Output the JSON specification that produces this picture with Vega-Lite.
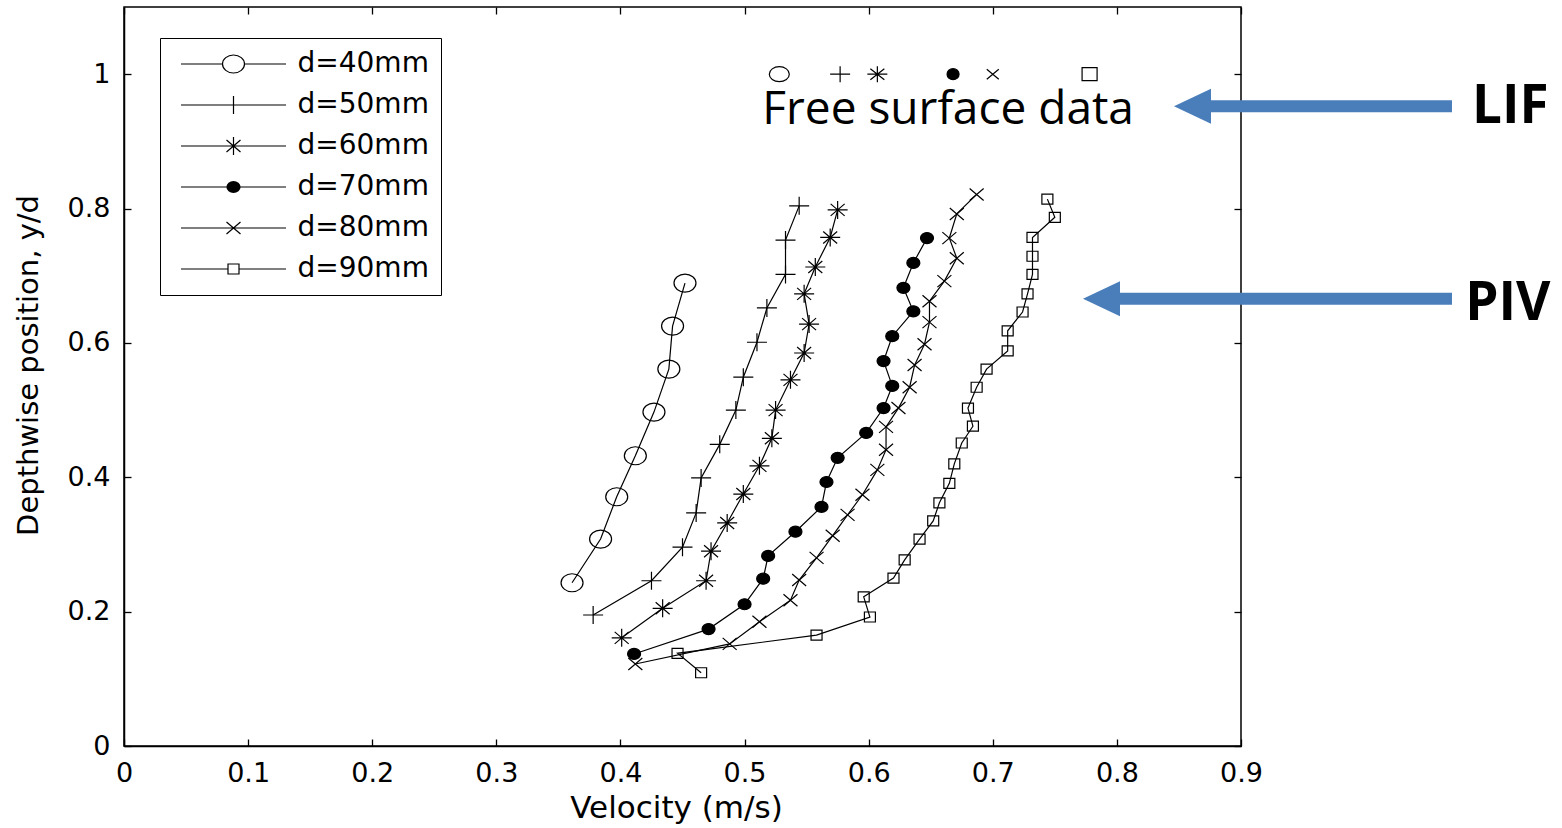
{
  "$schema": "https://vega.github.io/schema/vega-lite/v6.json",
  "width": 1117,
  "height": 739,
  "autosize": {"type": "none"},
  "padding": {"left": 124, "top": 7, "right": 321, "bottom": 82},
  "background": "white",
  "config": {
    "view": {"stroke": "black", "strokeWidth": 1.5},
    "axis": {
      "labelFont": "DejaVu Sans", "labelFontSize": 27, "labelColor": "black",
      "titleFont": "DejaVu Sans", "titleFontSize": 29, "titleFontWeight": "normal", "titleColor": "black",
      "domainColor": "black", "domainWidth": 1.5, "tickColor": "black", "tickWidth": 1.3, "tickSize": -7,
      "grid": false, "labelFlush": false, "labelOverlap": false
    }
  },
  "datasets": {
    "piv": [
      {"series": "d=40mm", "v": 0.361, "y": 0.243},
      {"series": "d=40mm", "v": 0.384, "y": 0.308},
      {"series": "d=40mm", "v": 0.397, "y": 0.371},
      {"series": "d=40mm", "v": 0.412, "y": 0.432},
      {"series": "d=40mm", "v": 0.427, "y": 0.497},
      {"series": "d=40mm", "v": 0.439, "y": 0.561},
      {"series": "d=40mm", "v": 0.442, "y": 0.625},
      {"series": "d=40mm", "v": 0.452, "y": 0.689},
      {"series": "d=50mm", "v": 0.378, "y": 0.195},
      {"series": "d=50mm", "v": 0.425, "y": 0.246},
      {"series": "d=50mm", "v": 0.450, "y": 0.296},
      {"series": "d=50mm", "v": 0.461, "y": 0.347},
      {"series": "d=50mm", "v": 0.465, "y": 0.399},
      {"series": "d=50mm", "v": 0.480, "y": 0.449},
      {"series": "d=50mm", "v": 0.493, "y": 0.500},
      {"series": "d=50mm", "v": 0.499, "y": 0.549},
      {"series": "d=50mm", "v": 0.510, "y": 0.601},
      {"series": "d=50mm", "v": 0.518, "y": 0.652},
      {"series": "d=50mm", "v": 0.533, "y": 0.702},
      {"series": "d=50mm", "v": 0.533, "y": 0.753},
      {"series": "d=50mm", "v": 0.544, "y": 0.804},
      {"series": "d=60mm", "v": 0.401, "y": 0.161},
      {"series": "d=60mm", "v": 0.434, "y": 0.205},
      {"series": "d=60mm", "v": 0.469, "y": 0.246},
      {"series": "d=60mm", "v": 0.473, "y": 0.290},
      {"series": "d=60mm", "v": 0.486, "y": 0.332},
      {"series": "d=60mm", "v": 0.499, "y": 0.375},
      {"series": "d=60mm", "v": 0.512, "y": 0.417},
      {"series": "d=60mm", "v": 0.522, "y": 0.458},
      {"series": "d=60mm", "v": 0.525, "y": 0.500},
      {"series": "d=60mm", "v": 0.537, "y": 0.545},
      {"series": "d=60mm", "v": 0.548, "y": 0.585},
      {"series": "d=60mm", "v": 0.552, "y": 0.628},
      {"series": "d=60mm", "v": 0.548, "y": 0.673},
      {"series": "d=60mm", "v": 0.557, "y": 0.713},
      {"series": "d=60mm", "v": 0.569, "y": 0.757},
      {"series": "d=60mm", "v": 0.575, "y": 0.798},
      {"series": "d=70mm", "v": 0.411, "y": 0.137},
      {"series": "d=70mm", "v": 0.471, "y": 0.174},
      {"series": "d=70mm", "v": 0.500, "y": 0.211},
      {"series": "d=70mm", "v": 0.515, "y": 0.249},
      {"series": "d=70mm", "v": 0.519, "y": 0.283},
      {"series": "d=70mm", "v": 0.541, "y": 0.319},
      {"series": "d=70mm", "v": 0.562, "y": 0.356},
      {"series": "d=70mm", "v": 0.566, "y": 0.393},
      {"series": "d=70mm", "v": 0.575, "y": 0.429},
      {"series": "d=70mm", "v": 0.598, "y": 0.466},
      {"series": "d=70mm", "v": 0.612, "y": 0.503},
      {"series": "d=70mm", "v": 0.619, "y": 0.536},
      {"series": "d=70mm", "v": 0.612, "y": 0.573},
      {"series": "d=70mm", "v": 0.619, "y": 0.610},
      {"series": "d=70mm", "v": 0.636, "y": 0.647},
      {"series": "d=70mm", "v": 0.628, "y": 0.682},
      {"series": "d=70mm", "v": 0.636, "y": 0.719},
      {"series": "d=70mm", "v": 0.647, "y": 0.756},
      {"series": "d=80mm", "v": 0.412, "y": 0.122},
      {"series": "d=80mm", "v": 0.488, "y": 0.152},
      {"series": "d=80mm", "v": 0.512, "y": 0.185},
      {"series": "d=80mm", "v": 0.537, "y": 0.217},
      {"series": "d=80mm", "v": 0.544, "y": 0.247},
      {"series": "d=80mm", "v": 0.558, "y": 0.280},
      {"series": "d=80mm", "v": 0.571, "y": 0.313},
      {"series": "d=80mm", "v": 0.583, "y": 0.344},
      {"series": "d=80mm", "v": 0.595, "y": 0.374},
      {"series": "d=80mm", "v": 0.607, "y": 0.411},
      {"series": "d=80mm", "v": 0.614, "y": 0.441},
      {"series": "d=80mm", "v": 0.614, "y": 0.475},
      {"series": "d=80mm", "v": 0.624, "y": 0.503},
      {"series": "d=80mm", "v": 0.633, "y": 0.534},
      {"series": "d=80mm", "v": 0.637, "y": 0.567},
      {"series": "d=80mm", "v": 0.645, "y": 0.598},
      {"series": "d=80mm", "v": 0.649, "y": 0.631},
      {"series": "d=80mm", "v": 0.649, "y": 0.662},
      {"series": "d=80mm", "v": 0.661, "y": 0.692},
      {"series": "d=80mm", "v": 0.671, "y": 0.726},
      {"series": "d=80mm", "v": 0.665, "y": 0.756},
      {"series": "d=80mm", "v": 0.671, "y": 0.792},
      {"series": "d=80mm", "v": 0.687, "y": 0.821},
      {"series": "d=90mm", "v": 0.465, "y": 0.109},
      {"series": "d=90mm", "v": 0.446, "y": 0.138},
      {"series": "d=90mm", "v": 0.558, "y": 0.165},
      {"series": "d=90mm", "v": 0.601, "y": 0.192},
      {"series": "d=90mm", "v": 0.596, "y": 0.222},
      {"series": "d=90mm", "v": 0.620, "y": 0.250},
      {"series": "d=90mm", "v": 0.629, "y": 0.277},
      {"series": "d=90mm", "v": 0.641, "y": 0.308},
      {"series": "d=90mm", "v": 0.652, "y": 0.335},
      {"series": "d=90mm", "v": 0.657, "y": 0.362},
      {"series": "d=90mm", "v": 0.665, "y": 0.391},
      {"series": "d=90mm", "v": 0.669, "y": 0.420},
      {"series": "d=90mm", "v": 0.675, "y": 0.451},
      {"series": "d=90mm", "v": 0.684, "y": 0.476},
      {"series": "d=90mm", "v": 0.680, "y": 0.503},
      {"series": "d=90mm", "v": 0.687, "y": 0.534},
      {"series": "d=90mm", "v": 0.695, "y": 0.561},
      {"series": "d=90mm", "v": 0.712, "y": 0.588},
      {"series": "d=90mm", "v": 0.712, "y": 0.618},
      {"series": "d=90mm", "v": 0.724, "y": 0.646},
      {"series": "d=90mm", "v": 0.728, "y": 0.673},
      {"series": "d=90mm", "v": 0.732, "y": 0.702},
      {"series": "d=90mm", "v": 0.732, "y": 0.729},
      {"series": "d=90mm", "v": 0.732, "y": 0.757},
      {"series": "d=90mm", "v": 0.750, "y": 0.787},
      {"series": "d=90mm", "v": 0.744, "y": 0.814}
    ],
    "surface": [
      {"series": "d=40mm", "v": 0.528, "y": 1.0},
      {"series": "d=50mm", "v": 0.577, "y": 1.0},
      {"series": "d=60mm", "v": 0.607, "y": 1.0},
      {"series": "d=70mm", "v": 0.668, "y": 1.0},
      {"series": "d=80mm", "v": 0.700, "y": 1.0},
      {"series": "d=90mm", "v": 0.778, "y": 1.0}
    ],
    "arrows": [
      {"label": "LIF", "tip": 0.846, "base": 0.874, "tail": 1.070, "y": 0.9524, "tx": 1.117, "ty": 0.9271},
      {"label": "PIV", "tip": 0.7727, "base": 0.800, "tail": 1.070, "y": 0.6659, "tx": 1.115, "ty": 0.6339}
    ],
    "notes": [
      {"note": "Free surface data", "v": 0.664, "y": 0.9256}
    ]
  },
  "layer": [
    {
      "data": {"name": "piv"},
      "mark": {"type": "line", "stroke": "black", "strokeWidth": 1.2},
      "encoding": {
        "x": {"field": "v", "type": "quantitative", "scale": {"domain": [0, 0.9], "nice": false, "zero": false},
              "axis": {"orient": "bottom", "values": [0, 0.1, 0.2, 0.3, 0.4, 0.5, 0.6, 0.7, 0.8, 0.9], "format": "~g", "title": "Velocity (m/s)", "titleFontSize": 31, "titleX": 552, "labelPadding": 21, "titlePadding": 7}},
        "y": {"field": "y", "type": "quantitative", "scale": {"domain": [0, 1.1], "nice": false, "zero": false},
              "axis": {"orient": "left", "values": [0, 0.2, 0.4, 0.6, 0.8, 1], "format": "~g", "title": "Depthwise position, y/d", "titleFontSize": 29, "titleY": 358, "labelPadding": 21, "titlePadding": 24}},
        "detail": {"field": "series"},
        "order": {"field": "y", "type": "quantitative"}
      }
    },
    {
      "data": {"name": "piv"},
      "mark": {"type": "point", "size": 4, "stroke": "black", "strokeWidth": 1.2, "opacity": 1},
      "encoding": {
        "x": {"field": "v", "type": "quantitative", "scale": {"domain": [0, 0.9], "nice": false, "zero": false},
              "axis": {"orient": "top", "labels": false, "domain": false, "title": null, "values": [0, 0.1, 0.2, 0.3, 0.4, 0.5, 0.6, 0.7, 0.8, 0.9]}},
        "y": {"field": "y", "type": "quantitative", "scale": {"domain": [0, 1.1], "nice": false, "zero": false},
              "axis": {"orient": "right", "labels": false, "domain": false, "title": null, "values": [0, 0.2, 0.4, 0.6, 0.8, 1]}},
        "shape": {
          "field": "series", "type": "nominal",
          "scale": {
            "domain": ["d=40mm", "d=50mm", "d=60mm", "d=70mm", "d=80mm", "d=90mm"],
            "range": [
              "M11,0A11,9 0 1,1 -11,0A11,9 0 1,1 11,0Z",
              "M-10,0L10,0M0,-9L0,9",
              "M-10,0L10,0M0,-9L0,9M-7,-6L7,6M-7,6L7,-6",
              "M6.5,0A6.5,5.5 0 1,1 -6.5,0A6.5,5.5 0 1,1 6.5,0Z",
              "M-7,-6L7,6M-7,6L7,-6",
              "M-5.5,-5L5.5,-5L5.5,5L-5.5,5Z"
            ]
          },
          "legend": null
        },
        "fill": {"condition": {"test": "datum.series === 'd=70mm'", "value": "black"}, "value": "transparent"}
      }
    },
    {
      "data": {"name": "surface"},
      "mark": {"type": "point", "size": 4, "stroke": "black", "strokeWidth": 1.2, "opacity": 1},
      "encoding": {
        "x": {"field": "v", "type": "quantitative", "scale": {"domain": [0, 0.9], "nice": false, "zero": false}, "axis": null},
        "y": {"field": "y", "type": "quantitative", "scale": {"domain": [0, 1.1], "nice": false, "zero": false}, "axis": null},
        "shape": {
          "field": "series", "type": "nominal",
          "scale": {
            "domain": ["d=40mm", "d=50mm", "d=60mm", "d=70mm", "d=80mm", "d=90mm"],
            "range": [
              "M10,0A10,7.5 0 1,1 -10,0A10,7.5 0 1,1 10,0Z",
              "M-10,0L10,0M0,-8L0,8",
              "M-10,0L10,0M0,-8L0,8M-7,-5.5L7,5.5M-7,5.5L7,-5.5",
              "M6,0A6,5.5 0 1,1 -6,0A6,5.5 0 1,1 6,0Z",
              "M-6,-5L6,5M-6,5L6,-5",
              "M-7.5,-6.5L7.5,-6.5L7.5,6.5L-7.5,6.5Z"
            ]
          },
          "legend": null
        },
        "fill": {"condition": {"test": "datum.series === 'd=70mm'", "value": "black"}, "value": "transparent"}
      }
    },
    {
      "data": {"name": "surface"},
      "mark": {"type": "point", "size": 4, "stroke": "black", "strokeWidth": 1.2, "opacity": 0, "filled": false},
      "encoding": {
        "x": {"field": "v", "type": "quantitative", "scale": {"domain": [0, 0.9], "nice": false, "zero": false}, "axis": null},
        "y": {"field": "y", "type": "quantitative", "scale": {"domain": [0, 1.1], "nice": false, "zero": false}, "axis": null},
        "shape": {
          "field": "series", "type": "nominal",
          "scale": {
            "domain": ["d=40mm", "d=50mm", "d=60mm", "d=70mm", "d=80mm", "d=90mm"],
            "range": [
              "M-52.5,0L-11,0M11,0L52.5,0M11,0A11,9 0 1,1 -11,0A11,9 0 1,1 11,0Z",
              "M-52.5,0L52.5,0M0,-9L0,9",
              "M-52.5,0L52.5,0M0,-9L0,9M-7,-6L7,6M-7,6L7,-6",
              "M-52.5,0L52.5,0M6.5,0A6.5,5.5 0 1,1 -6.5,0A6.5,5.5 0 1,1 6.5,0ZM5.5,0A5.5,4.6 0 1,1 -5.5,0A5.5,4.6 0 1,1 5.5,0ZM4.5,0A4.5,3.8 0 1,1 -4.5,0A4.5,3.8 0 1,1 4.5,0ZM3.5,0A3.5,3 0 1,1 -3.5,0A3.5,3 0 1,1 3.5,0ZM2.5,0A2.5,2.1 0 1,1 -2.5,0A2.5,2.1 0 1,1 2.5,0ZM1.5,0A1.5,1.3 0 1,1 -1.5,0A1.5,1.3 0 1,1 1.5,0ZM0.6,0A0.6,0.5 0 1,1 -0.6,0A0.6,0.5 0 1,1 0.6,0Z",
              "M-52.5,0L52.5,0M-7,-6L7,6M-7,6L7,-6",
              "M-52.5,0L-5.5,0M5.5,0L52.5,0M-5.5,-5L5.5,-5L5.5,5L-5.5,5Z"
            ]
          },
          "legend": {
            "orient": "none", "legendX": 36, "legendY": 31, "title": null,
            "padding": 12, "rowPadding": 13,
            "strokeColor": "black", "fillColor": "white",
            "labelFont": "DejaVu Sans", "labelFontSize": 28, "labelColor": "black",
            "labelOffset": 50, "labelLimit": 400,
            "symbolOffset": 47.5,
            "symbolSize": 4, "symbolStrokeWidth": 1.2, "symbolStrokeColor": "black", "symbolFillColor": "transparent", "symbolOpacity": 1
          }
        }
      }
    },
    {
      "data": {"name": "arrows"},
      "mark": {"type": "rule", "stroke": "#4a7ebb", "strokeWidth": 12, "strokeCap": "butt"},
      "encoding": {
        "x": {"field": "base", "type": "quantitative", "scale": {"domain": [0, 0.9], "nice": false, "zero": false}, "axis": null},
        "x2": {"field": "tail"},
        "y": {"field": "y", "type": "quantitative", "scale": {"domain": [0, 1.1], "nice": false, "zero": false}, "axis": null}
      }
    },
    {
      "data": {"name": "arrows"},
      "mark": {"type": "point", "shape": "M0,0L37,-17.5L37,17.5Z", "size": 4, "fill": "#4a7ebb", "filled": true, "strokeWidth": 0, "opacity": 1},
      "encoding": {
        "x": {"field": "tip", "type": "quantitative", "scale": {"domain": [0, 0.9], "nice": false, "zero": false}, "axis": null},
        "y": {"field": "y", "type": "quantitative", "scale": {"domain": [0, 1.1], "nice": false, "zero": false}, "axis": null}
      }
    },
    {
      "data": {"name": "arrows"},
      "mark": {"type": "text", "font": "Open Sans", "fontWeight": "bold", "fontSize": 53, "align": "center", "baseline": "alphabetic", "color": "black"},
      "encoding": {
        "x": {"field": "tx", "type": "quantitative", "scale": {"domain": [0, 0.9], "nice": false, "zero": false}, "axis": null},
        "y": {"field": "ty", "type": "quantitative", "scale": {"domain": [0, 1.1], "nice": false, "zero": false}, "axis": null},
        "text": {"field": "label"}
      }
    },
    {
      "data": {"name": "notes"},
      "mark": {"type": "text", "font": "Open Sans", "fontSize": 46, "align": "center", "baseline": "alphabetic", "color": "black"},
      "encoding": {
        "x": {"field": "v", "type": "quantitative", "scale": {"domain": [0, 0.9], "nice": false, "zero": false}, "axis": null},
        "y": {"field": "y", "type": "quantitative", "scale": {"domain": [0, 1.1], "nice": false, "zero": false}, "axis": null},
        "text": {"field": "note"}
      }
    }
  ],
  "resolve": {"axis": {"x": "independent", "y": "independent"}, "scale": {"shape": "independent"}}
}
